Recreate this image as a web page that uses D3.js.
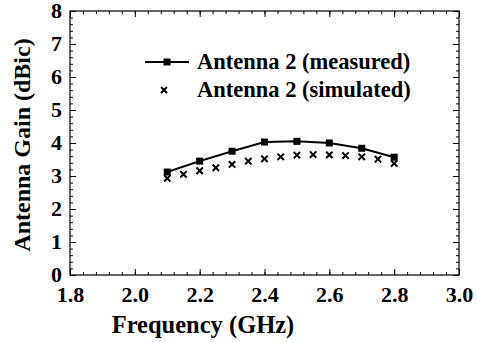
<!DOCTYPE html>
<html><head><meta charset="utf-8">
<script src="https://cdn.jsdelivr.net/npm/d3@7"></script>
<style>body{margin:0;background:#fff}svg{display:block}svg text{font-family:"Liberation Serif","Times New Roman",Times,serif !important;font-weight:bold;fill:#000}</style>
</head><body><svg id="c" width="479" height="342" font-family="Liberation Serif"></svg>
<script>
const measuredFreq = [2.1, 2.2, 2.3, 2.4, 2.5, 2.6, 2.7, 2.8];
const measuredGain = [3.12, 3.45, 3.75, 4.03, 4.05, 4.0, 3.84, 3.57];
const simFreq = [2.1, 2.15, 2.2, 2.25, 2.3, 2.35, 2.4, 2.45, 2.5, 2.55, 2.6, 2.65, 2.7, 2.75, 2.8];
const simGain = [2.93, 3.05, 3.16, 3.25, 3.35, 3.45, 3.52, 3.58, 3.63, 3.65, 3.64, 3.62, 3.58, 3.51, 3.38];
const xTicks = [1.8, 2.0, 2.2, 2.4, 2.6, 2.8, 3.0];
const yTicks = [0, 1, 2, 3, 4, 5, 6, 7, 8];
const legendLabels = ["Antenna 2 (measured)", "Antenna 2 (simulated)"];

const svg = d3.select("#c");
const L = 70, R = 459, T = 11, B = 275;
const x = d3.scaleLinear().domain([1.8, 3.0]).range([L, R]);
const y = d3.scaleLinear().domain([0, 8]).range([B, T]);

const xMinor = d3.range(0, 31).map(i => 1.8 + i * 0.04);
const yMinor = d3.range(0, 41).map(i => i * 0.2);

function axis(gen, tr, major, minor, labels) {
  const g = svg.append("g").attr("transform", tr);
  g.call(gen.tickValues(minor).tickSize(-3).tickFormat(""));
  const g2 = svg.append("g").attr("transform", tr);
  g2.call(gen.tickValues(major).tickSize(-6).tickFormat(labels ? d3.format(labels) : ""));
  [g, g2].forEach(a => { a.attr("font-family", null); a.select(".domain").remove(); a.selectAll("line").attr("stroke", "#000").attr("stroke-width", 1); });
  return g2;
}
const gx = axis(d3.axisBottom(x), `translate(0,${B})`, xTicks, xMinor, ".1f");
gx.selectAll("text").attr("font-size", 22).attr("y", 19).attr("dy", "0.35em");
axis(d3.axisTop(x), `translate(0,${T})`, xTicks, xMinor, null);
const gy = axis(d3.axisLeft(y), `translate(${L},0)`, yTicks, yMinor, "d");
gy.selectAll("text").attr("font-size", 22).attr("x", -8).attr("dy", "0.3em");
axis(d3.axisRight(y), `translate(${R},0)`, yTicks, yMinor, null);

svg.append("rect").attr("x", L).attr("y", T).attr("width", R - L).attr("height", B - T)
  .attr("fill", "none").attr("stroke", "#000").attr("stroke-width", 1.2);

const mdata = measuredFreq.map((f, i) => [f, measuredGain[i]]);
const sdata = simFreq.map((f, i) => [f, simGain[i]]);

svg.append("path").datum(mdata)
  .attr("d", d3.line().x(d => x(d[0])).y(d => y(d[1])))
  .attr("fill", "none").attr("stroke", "#000").attr("stroke-width", 2);
svg.selectAll(".sq").data(mdata).join("rect")
  .attr("x", d => x(d[0]) - 3.5).attr("y", d => y(d[1]) - 3.5)
  .attr("width", 7).attr("height", 7).attr("fill", "#000");

const cross = (sel, s) => sel.attr("d", `M${-s},${-s}L${s},${s}M${-s},${s}L${s},${-s}`)
  .attr("stroke", "#000").attr("stroke-width", 2).attr("fill", "none");
svg.selectAll(".x").data(sdata).join("path")
  .attr("transform", d => `translate(${x(d[0])},${y(d[1])})`)
  .call(cross, 3.2);

// legend
svg.append("line").attr("x1", 145).attr("x2", 189).attr("y1", 62).attr("y2", 62)
  .attr("stroke", "#000").attr("stroke-width", 2);
svg.append("rect").attr("x", 167 - 3.5).attr("y", 62 - 3.5).attr("width", 7).attr("height", 7).attr("fill", "#000");
svg.append("path").attr("transform", "translate(164,90)").call(cross, 3);
svg.append("text").attr("x", 197).attr("y", 62).attr("dy", "0.33em").attr("font-size", 22.5).text(legendLabels[0]);
svg.append("text").attr("x", 197).attr("y", 90).attr("dy", "0.33em").attr("font-size", 22.5).text(legendLabels[1]);

svg.append("text").attr("x", 203).attr("y", 325).attr("dy", "0.33em")
  .attr("text-anchor", "middle").attr("font-size", 24.5).text("Frequency (GHz)");
svg.append("text").attr("transform", `translate(22,145) rotate(-90)`).attr("dy", "0.33em")
  .attr("text-anchor", "middle").attr("font-size", 24).text("Antenna Gain (dBic)");
</script></body></html>
